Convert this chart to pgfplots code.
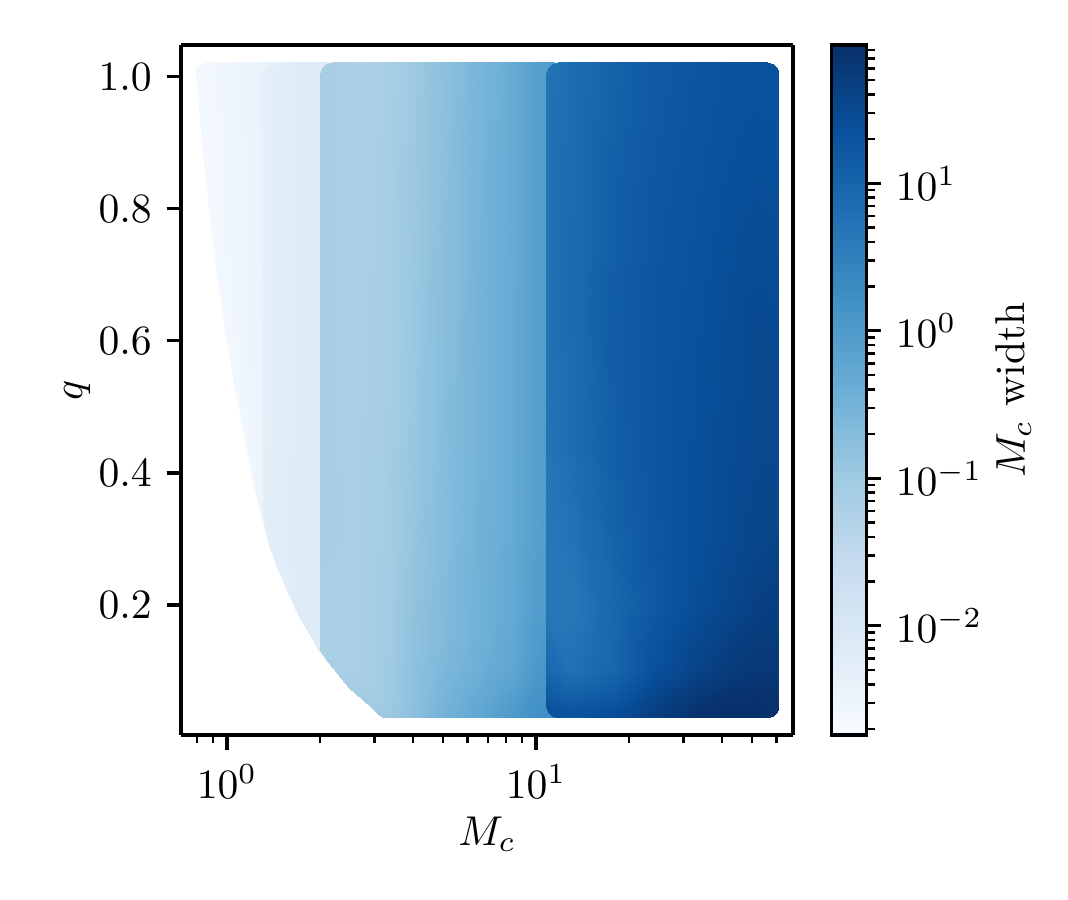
\documentclass[border=0pt]{standalone}
\usepackage{pgfplots}
\pgfplotsset{compat=1.18}
\pgfplotsset{colormap={Blues}{rgb255=(247,251,255) rgb255=(222,235,247) rgb255=(198,219,239) rgb255=(158,202,225) rgb255=(107,174,214) rgb255=(66,146,198) rgb255=(33,113,181) rgb255=(8,81,156) rgb255=(8,48,107)}}
\begin{document}
\begin{tikzpicture}
\useasboundingbox (-43.44pt,-39.6pt) rectangle (212.88pt,176.4pt);
\begin{axis}[
  at={(0pt,0pt)}, anchor=south west,
  scale only axis, width=146.9pt, height=165.6pt,
  view={0}{90},
  xmode=log, log basis x=10,
  xmin=0.71, xmax=67.9, ymin=0.0031, ymax=1.048,
  xtick={1,10},
  minor xtick={0.8,0.9,2,3,4,5,6,7,8,9,20,30,40,50,60},
  ytick={0.2,0.4,0.6,0.8,1.0},
  yticklabel style={/pgf/number format/.cd, fixed, fixed zerofill, precision=1},
  tick pos=left, tick align=outside,
  major tick length=3.5pt, minor tick length=2pt,
  every tick/.style={black, line width=0.8pt},
  every minor tick/.style={black, line width=0.6pt},
  axis line style={line width=0.8pt},
  xlabel={$M_c$}, ylabel={$q$},
  xlabel shift=-2.4pt,
  ylabel shift=-4.9pt,
  axis on top,
  colormap name=Blues,
  point meta min=-2.741, point meta max=1.9376,
  colorbar,
  colorbar style={
    at={(parent axis.north east)}, anchor=north west, xshift=0.7pt,
    scale only axis, width=8.4pt, height=165.6pt,
    ytick={-2,-1,0,1},
    yticklabels={$10^{-2}$,$10^{-1}$,$10^{0}$,$10^{1}$},
    minor ytick={-2.699,-2.523,-2.398,-2.301,-2.222,-2.155,-2.097,-2.046,
      -1.699,-1.523,-1.398,-1.301,-1.222,-1.155,-1.097,-1.046,
      -0.699,-0.523,-0.398,-0.301,-0.222,-0.155,-0.097,-0.046,
      0.301,0.477,0.602,0.699,0.778,0.845,0.903,0.954,
      1.301,1.477,1.602,1.699,1.778,1.845,1.903},
    ytick pos=right, yticklabel pos=right, tick align=outside,
    major tick length=3.5pt, minor tick length=2pt,
    every tick/.style={black, line width=0.8pt},
    every minor tick/.style={black, line width=0.6pt},
    axis line style={line width=0.8pt},
    ylabel={$M_c$ width}, ylabel shift=-3.6pt,
  },
]
% band 1
\addplot3[surf, shader=interp, point meta=explicit, mesh/cols=3]
  table[x=M, y=q, z expr=0, meta expr={log10(\thisrow{w})}] {
M q w
0.855 1.022 0.0023
1.094 1.022 0.0030
1.40 1.022 0.0040
0.818 1.0196 0.0023
1.070 1.0196 0.0030
1.40 1.0196 0.0040
0.795 1.0129 0.0023
1.055 1.0129 0.0030
1.40 1.0129 0.0040
0.792 1.0038 0.0023
1.053 1.0038 0.0030
1.40 1.0038 0.0040
0.828 0.9 0.0023
1.077 0.9 0.0030
1.40 0.9 0.0040
0.873 0.8 0.0023
1.106 0.8 0.0030
1.40 0.8 0.0040
0.927 0.7 0.0024
1.139 0.7 0.0031
1.40 0.7 0.0040
0.990 0.606 0.0024
1.177 0.606 0.0031
1.40 0.606 0.0041
1.066 0.52 0.0025
1.222 0.52 0.0032
1.40 0.52 0.0042
1.144 0.45 0.0026
1.266 0.45 0.0032
1.40 0.45 0.0042
1.223 0.38 0.0028
1.308 0.38 0.0033
1.40 0.38 0.0042
1.300 0.33 0.0030
1.349 0.33 0.0034
1.40 0.33 0.0042
};
% band 2
\addplot3[surf, shader=interp, point meta=explicit, mesh/cols=3]
  table[x=M, y=q, z expr=0, meta expr={log10(\thisrow{w})}] {
M q w
1.432 1.022 0.0052
1.70 1.022 0.0064
2.15 1.022 0.0080
1.370 1.0196 0.0052
1.68 1.0196 0.0064
2.15 1.0196 0.0080
1.326 1.0129 0.0052
1.67 1.0129 0.0064
2.15 1.0129 0.0080
1.31 1.0038 0.0052
1.67 1.0038 0.0064
2.15 1.0038 0.0080
1.31 0.606 0.0053
1.67 0.606 0.0065
2.15 0.606 0.0081
1.31 0.33 0.0055
1.67 0.33 0.0067
2.15 0.33 0.0082
1.345 0.3 0.0056
1.69 0.3 0.0068
2.15 0.3 0.0082
1.443 0.26 0.0058
1.75 0.26 0.0069
2.15 0.26 0.0082
1.561 0.2227 0.0060
1.82 0.2227 0.0071
2.15 0.2227 0.0082
1.703 0.185 0.0065
1.91 0.185 0.0073
2.15 0.185 0.0082
1.898 0.147 0.0070
2.02 0.147 0.0076
2.15 0.147 0.0082
1.99 0.13 0.0078
2.07 0.13 0.0080
2.15 0.13 0.0082
};
% band 3
\addplot3[surf, shader=interp, point meta=explicit, mesh/cols=9]
  table[x=M, y=q, z expr=0, meta expr={log10(\thisrow{w})}] {
M q w
2.187 1.022 0.075
2.6 1.022 0.065
3.3 1.022 0.072
4.0 1.022 0.105
5.1 1.022 0.17
6.6 1.022 0.28
8.4 1.022 0.45
9.6 1.022 0.70
11.5 1.022 1.0
2.091 1.0196 0.075
2.6 1.0196 0.065
3.3 1.0196 0.072
4.0 1.0196 0.105
5.1 1.0196 0.17
6.6 1.0196 0.28
8.4 1.0196 0.45
9.6 1.0196 0.70
11.5 1.0196 1.0
2.024 1.0129 0.075
2.6 1.0129 0.065
3.3 1.0129 0.072
4.0 1.0129 0.105
5.1 1.0129 0.17
6.6 1.0129 0.28
8.4 1.0129 0.45
9.6 1.0129 0.70
11.5 1.0129 1.0
2.0 1.0038 0.075
2.6 1.0038 0.065
3.3 1.0038 0.072
4.0 1.0038 0.105
5.1 1.0038 0.17
6.6 1.0038 0.28
8.4 1.0038 0.45
9.6 1.0038 0.70
11.5 1.0038 1.0
2.0 0.8 0.075
2.6 0.8 0.065
3.3 0.8 0.075
4.0 0.8 0.11
5.1 0.8 0.18
6.6 0.8 0.30
8.4 0.8 0.47
9.6 0.8 0.72
11.5 0.8 1.0
2.0 0.606 0.075
2.6 0.606 0.066
3.3 0.606 0.078
4.0 0.606 0.115
5.1 0.606 0.19
6.6 0.606 0.31
8.4 0.606 0.48
9.6 0.606 0.72
11.5 0.606 1.0
2.0 0.45 0.075
2.6 0.45 0.068
3.3 0.45 0.082
4.0 0.45 0.12
5.1 0.45 0.20
6.6 0.45 0.32
8.4 0.45 0.48
9.6 0.45 0.72
11.5 0.45 1.0
2.0 0.3 0.075
2.6 0.3 0.070
3.3 0.3 0.085
4.0 0.3 0.13
5.1 0.3 0.21
6.6 0.3 0.33
8.4 0.3 0.48
9.6 0.3 0.75
11.5 0.3 1.05
2.0 0.2227 0.070
2.6 0.2227 0.068
3.3 0.2227 0.090
4.0 0.2227 0.14
5.1 0.2227 0.22
6.6 0.2227 0.34
8.4 0.2227 0.50
9.6 0.2227 0.80
11.5 0.2227 1.10
2.0 0.13 0.066
2.6 0.13 0.066
3.3 0.13 0.090
4.0 0.13 0.15
5.1 0.13 0.24
6.6 0.13 0.36
8.4 0.13 0.55
9.6 0.13 0.90
11.5 0.13 1.25
2.107 0.115 0.068
2.65 0.115 0.068
3.35 0.115 0.095
4.0 0.115 0.155
5.1 0.115 0.25
6.6 0.115 0.38
8.4 0.115 0.58
9.6 0.115 0.97
11.5 0.115 1.32
2.265 0.097 0.070
2.8 0.097 0.070
3.4 0.097 0.10
4.0 0.097 0.16
5.1 0.097 0.26
6.6 0.097 0.40
8.4 0.097 0.62
9.6 0.097 1.05
11.5 0.097 1.40
2.484 0.075 0.080
2.95 0.075 0.080
3.5 0.075 0.11
4.1 0.075 0.17
5.1 0.075 0.28
6.6 0.075 0.45
8.4 0.075 0.75
9.6 0.075 1.18
11.5 0.075 1.50
2.755 0.0562 0.090
3.1 0.0562 0.090
3.6 0.0562 0.12
4.2 0.0562 0.18
5.1 0.0562 0.30
6.6 0.0562 0.50
8.4 0.0562 0.90
9.6 0.0562 1.30
11.5 0.0562 1.60
2.94 0.044 0.10
3.25 0.044 0.10
3.7 0.044 0.13
4.3 0.044 0.20
5.1 0.044 0.32
6.6 0.044 0.55
8.4 0.044 1.00
9.6 0.044 1.45
11.5 0.044 1.70
3.08 0.035 0.11
3.35 0.035 0.11
3.78 0.035 0.14
4.35 0.035 0.21
5.1 0.035 0.34
6.6 0.035 0.58
8.4 0.035 1.05
9.6 0.035 1.48
11.5 0.035 1.75
3.2 0.029 0.12
3.45 0.029 0.12
3.85 0.029 0.15
4.4 0.029 0.22
5.1 0.029 0.35
6.6 0.029 0.60
8.4 0.029 1.10
9.6 0.029 1.50
11.5 0.029 1.80
};
% band 4
\addplot3[surf, shader=interp, point meta=explicit, mesh/cols=8]
  table[x=M, y=q, z expr=0, meta expr={log10(\thisrow{w})}] {
M q w
11.81 1.022 5.5
13 1.022 7
18 1.022 11
24 1.022 15
32 1.022 18
42 1.022 21
52 1.022 22
55.79 1.022 22
11.29 1.0196 5.5
13 1.0196 7
18 1.0196 11
24 1.0196 15
32 1.0196 18
42 1.0196 21
52 1.0196 22
58.33 1.0196 22
10.93 1.0129 5.5
13 1.0129 7
18 1.0129 11
24 1.0129 15
32 1.0129 18
42 1.0129 21
52 1.0129 22
60.28 1.0129 22
10.8 1.0038 5.5
13 1.0038 7
18 1.0038 11
24 1.0038 15
32 1.0038 18
42 1.0038 21
52 1.0038 22
61 1.0038 22
10.8 0.8 5.5
13 0.8 7.5
18 0.8 13
24 0.8 17
32 0.8 20
42 0.8 24
52 0.8 26
61 0.8 25
10.8 0.606 5.5
13 0.606 7.5
18 0.606 14
24 0.606 18
32 0.606 22
42 0.606 27
52 0.606 32
61 0.606 30
10.8 0.45 5.2
13 0.45 7
18 0.45 13
24 0.45 18
32 0.45 23
42 0.45 28
52 0.45 32
61 0.45 32
10.8 0.3 4.5
13 0.3 5.5
18 0.3 11
24 0.3 17
32 0.3 23
42 0.3 30
52 0.3 36
61 0.3 38
10.8 0.2 4.5
13 0.2 4.5
18 0.2 9
24 0.2 16
32 0.2 25
42 0.2 35
52 0.2 45
61 0.2 48
10.8 0.1 9
13 0.1 6
18 0.1 10
24 0.1 22
32 0.1 38
42 0.1 55
52 0.1 65
61 0.1 62
10.8 0.06 16
13 0.06 12
18 0.06 17
24 0.06 35
32 0.06 60
42 0.06 78
52 0.06 82
61 0.06 75
10.8 0.0472 20
13 0.0472 17
18 0.0472 22
24 0.0472 42
32 0.0472 70
42 0.0472 84
52 0.0472 85
61 0.0472 78
10.93 0.0381 22
13 0.0381 20
18 0.0381 25
24 0.0381 45
32 0.0381 75
42 0.0381 86
52 0.0381 86
60.28 0.0381 80
11.29 0.0314 22
13 0.0314 20
18 0.0314 25
24 0.0314 45
32 0.0314 75
42 0.0314 86
52 0.0314 86
58.33 0.0314 80
11.81 0.029 22
13 0.029 20
18 0.029 25
24 0.029 45
32 0.029 75
42 0.029 86
52 0.029 86
55.79 0.029 80
};
\end{axis}
\end{tikzpicture}
\end{document}
